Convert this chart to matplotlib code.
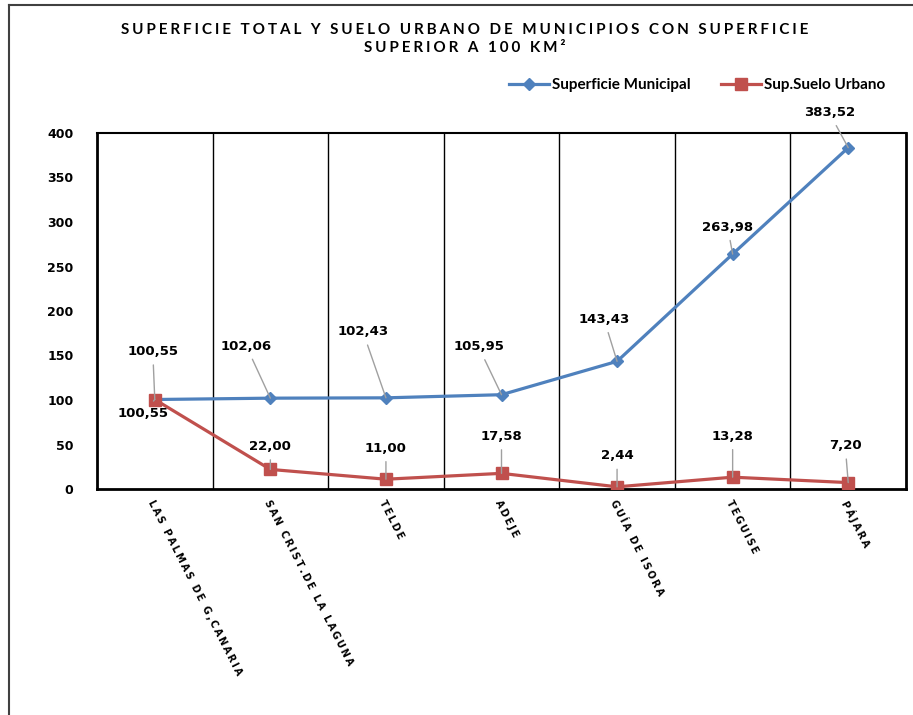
import matplotlib
matplotlib.use('Agg')
import matplotlib.pyplot as plt
from matplotlib.lines import Line2D

plt.rcParams['font.family'] = ['Lato', 'DejaVu Sans']

######################### Data #########################
municipios = ['LAS PALMAS DE G,CANARIA', 'SAN CRIST.DE LA LAGUNA', 'TELDE', 'ADEJE',
              'GUÍA DE ISORA', 'TEGUISE', 'PÁJARA']
sup_municipal = [100.55, 102.06, 102.43, 105.95, 143.43, 263.98, 383.52]
sup_urbano = [100.55, 22.00, 11.00, 17.58, 2.44, 13.28, 7.20]
yticks = [0, 50, 100, 150, 200, 250, 300, 350, 400]

# label offsets (pixels) from each point
off_municipal = [(-2, 48), (-24, 52), (-23, 66), (-23, 48), (-13, 42), (-5, 27), (-19, 35)]
off_urbano = [(-12, -14), (0, 23), (0, 31), (0, 37), (0, 31), (0, 41), (-3, 37)]

BLUE = '#4F81BD'
RED = '#C0504D'
VERDANA = ['DejaVu Sans']

def spaced(s, sep='\u200a'):
    return sep.join(s)

def fmt(v):
    return ('%.2f' % v).replace('.', ',')

######################### Plot #########################
fig = plt.figure(figsize=(9.13, 7.15), dpi=100)
ax = fig.add_axes([97/913, 1 - 489/715, (906 - 97)/913, (489 - 133)/715])

x = list(range(len(municipios)))
ax.plot(x, sup_municipal, color=BLUE, lw=2.3, marker='D', ms=6, zorder=3,
        label='Superficie Municipal')
ax.plot(x, sup_urbano, color=RED, lw=2.3, marker='s', ms=8, zorder=4,
        label='Sup.Suelo Urbano')

def add_labels(vals, offs):
    for xi, v, (dx, dy) in zip(x, vals, offs):
        ax.annotate(fmt(v), (xi, v), xytext=(dx, dy), textcoords='offset pixels',
                    ha='center', va='center', fontsize=9.5, fontweight='bold', family=VERDANA,
                    arrowprops=dict(arrowstyle='-', color='#A0A0A0', lw=1,
                                    shrinkA=3, shrinkB=0), zorder=5)

add_labels(sup_municipal, off_municipal)
add_labels(sup_urbano, off_urbano)

ax.set_xlim(-0.5, len(municipios) - 0.5)
ax.set_ylim(0, 400)
ax.set_yticks(yticks)
ax.set_yticklabels([str(t) for t in yticks], fontsize=9, fontweight='bold', family=VERDANA)
ax.tick_params(axis='y', length=0, pad=17)

for b in range(1, len(municipios)):
    ax.axvline(b - 0.5, color='black', lw=1, zorder=1)

ax.set_xticks(x)
ax.set_xticklabels([])
ax.tick_params(axis='x', length=0)
for xi, name in zip(x, municipios):
    ax.annotate(spaced(name, '\u2009'), (xi, 0), xytext=(-4, -12), textcoords='offset pixels',
                rotation=-63, rotation_mode='anchor', ha='left', va='center',
                fontsize=7, fontweight='bold', family=VERDANA, annotation_clip=False)

for side in ['left', 'bottom', 'right']:
    ax.spines[side].set_linewidth(2)
ax.spines['top'].set_linewidth(1.5)

fig.text(465/913, 1 - 30/715, spaced('SUPERFICIE TOTAL Y SUELO URBANO DE MUNICIPIOS CON SUPERFICIE', '\u2009\u200a'),
         ha='center', va='center', fontsize=11, fontweight='bold')
fig.text(465/913, 1 - 48/715, spaced('SUPERIOR A 100 KM²', '\u2009\u200a'),
         ha='center', va='center', fontsize=11, fontweight='bold')

fig.legend(loc='center', bbox_to_anchor=(697/913, 1 - 85/715), ncol=2, frameon=False,
           prop={'weight': 'bold', 'size': 11}, handlelength=2.6, columnspacing=2.0,
           handletextpad=0.2)

# outer frame
fig.add_artist(Line2D([8.5/913, 8.5/913], [0, 1 - 5/715], color='#404040', lw=1.5,
                      transform=fig.transFigure))
fig.add_artist(Line2D([8.5/913, 1], [1 - 5/715, 1 - 5/715], color='#404040', lw=1.5,
                      transform=fig.transFigure))

fig.savefig('out.png', dpi=100)
